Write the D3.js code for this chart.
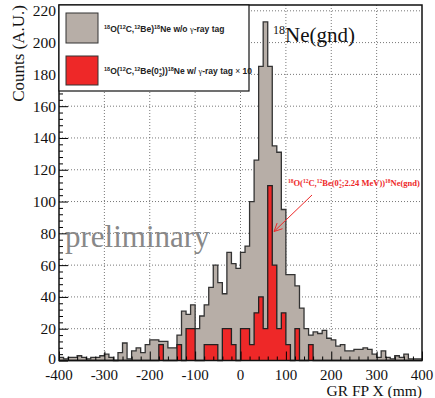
<!DOCTYPE html>
<html>
<head>
<meta charset="utf-8">
<script src="https://cdn.jsdelivr.net/npm/d3@7"></script>
<style>
  body { margin: 0; background: #fff; }
  svg { display: block; }
</style>
</head>
<body>
<svg id="chart" width="435" height="398"></svg>
<script>
// histogram bins: 10 mm wide, from -400 to 400
const binStart = -400;
const binWidth = 10;

// 18O(12C,12Be)18Ne w/o gamma-ray tag
const greyCounts = [
  2, 1, 2, 2, 3, 2, 1, 2, 2, 3,
  4, 2, 0, 5, 11, 1, 6, 8, 5, 10,
  13, 13, 12, 12, 8, 8, 16, 31, 29, 35,
  20, 28, 35, 46, 60, 49, 42, 68, 61, 58,
  68, 72, 100, 126, 185, 213, 185, 135, 131, 95,
  54, 54, 47, 33, 20, 16, 18, 17, 19, 14,
  13, 9, 10, 6, 6, 7, 7, 8, 7, 4,
  2, 6, 2, 1, 3, 2, 4, 1, 1, 1
];

// w/ gamma-ray tag, x 10
const redCounts = [
  0, 0, 0, 0, 0, 0, 0, 0, 0, 0,
  0, 0, 0, 0, 0, 0, 0, 0, 0, 0,
  0, 0, 10, 0, 0, 0, 10, 0, 20, 20,
  0, 0, 10, 10, 10, 0, 20, 20, 10, 0,
  20, 20, 10, 30, 40, 20, 110, 60, 20, 30,
  10, 0, 20, 0, 0, 10, 0, 0, 0, 0,
  0, 0, 0, 0, 0, 0, 0, 0, 0, 0,
  0, 0, 0, 0, 0, 0, 0, 0, 0, 0
];

const xTicks = [-400, -300, -200, -100, 0, 100, 200, 300, 400];
const yTicks = [0, 20, 40, 60, 80, 100, 120, 140, 160, 180, 200, 220];

const SERIF = '"Liberation Serif", "Times New Roman", serif';
const SANS = '"Liberation Sans", Arial, sans-serif';

const margin = { top: 5, right: 13, bottom: 37.5, left: 59 };
const width = 435 - margin.left - margin.right;
const height = 398 - margin.top - margin.bottom;

const svg = d3.select('#chart');
const g = svg.append('g').attr('transform', `translate(${margin.left},${margin.top})`);

const x = d3.scaleLinear().domain([-400, 400]).range([0, width]);
const y = d3.scaleLinear().domain([0, 213 * 1.05]).range([height, 0]);

// grid
g.append('g')
  .selectAll('line')
  .data(xTicks.slice(1, -1))
  .enter().append('line')
  .attr('x1', d => x(d)).attr('x2', d => x(d))
  .attr('y1', 0).attr('y2', height)
  .attr('stroke', '#555').attr('stroke-width', 0.8).attr('stroke-dasharray', '1,2');

g.append('g')
  .selectAll('line')
  .data(yTicks.slice(1))
  .enter().append('line')
  .attr('x1', 0).attr('x2', width)
  .attr('y1', d => y(d)).attr('y2', d => y(d))
  .attr('stroke', '#555').attr('stroke-width', 0.8).attr('stroke-dasharray', '1,2');

// step shapes
function toPoints(counts) {
  const pts = counts.map((c, i) => ({ e: binStart + i * binWidth, c: c }));
  pts.push({ e: binStart + counts.length * binWidth, c: counts[counts.length - 1] });
  return pts;
}

const area = d3.area()
  .curve(d3.curveStepAfter)
  .x(d => x(d.e))
  .y0(y(0))
  .y1(d => y(d.c));

const line = d3.line()
  .curve(d3.curveStepAfter)
  .x(d => x(d.e))
  .y(d => y(d.c));

const hist = g.append('g').attr('class', 'hist');

hist.append('path')
  .datum(toPoints(greyCounts))
  .attr('fill', '#b7aea7')
  .attr('d', area);
hist.append('path')
  .datum(toPoints(greyCounts))
  .attr('fill', 'none')
  .attr('stroke', '#333')
  .attr('stroke-width', 1.3)
  .attr('d', line);

hist.append('path')
  .datum(toPoints(redCounts))
  .attr('fill', '#ee2828')
  .attr('d', area);
hist.append('path')
  .datum(toPoints(redCounts))
  .attr('fill', 'none')
  .attr('stroke', '#222')
  .attr('stroke-width', 1.3)
  .attr('d', line);

// axes (ROOT style: ticks inside)
const yAxis = g.append('g')
  .call(d3.axisRight(y).tickValues(d3.range(0, 224, 4)).tickSize(4).tickFormat(''));
yAxis.selectAll('.tick line').filter(d => d % 20 === 0).attr('x2', 9);
yAxis.select('.domain').remove();

const xAxis = g.append('g')
  .attr('transform', `translate(0,${height})`)
  .call(d3.axisTop(x).tickValues(d3.range(-400, 401, 20)).tickSize(4).tickFormat(''));
xAxis.selectAll('.tick line').filter(d => d % 100 === 0).attr('y2', -9);
xAxis.select('.domain').remove();

// frame
g.append('rect')
  .attr('width', width).attr('height', height)
  .attr('fill', 'none').attr('stroke', '#111').attr('stroke-width', 1.5);

// tick labels
g.append('g').selectAll('text')
  .data(yTicks)
  .enter().append('text')
  .attr('font-family', SERIF).attr('font-size', 15.5).attr('fill', '#111')
  .attr('x', -3)
  .attr('y', d => y(d) + (d === 0 ? 3.5 : 5.5))
  .attr('text-anchor', 'end')
  .text(d => d);

g.append('g').selectAll('text')
  .data(xTicks)
  .enter().append('text')
  .attr('font-family', SERIF).attr('font-size', 15).attr('fill', '#111')
  .attr('x', d => x(d))
  .attr('y', height + 19)
  .attr('text-anchor', 'middle')
  .text(d => d);

// axis titles
svg.append('text')
  .attr('font-family', SERIF).attr('font-size', 17).attr('fill', '#111')
  .attr('transform', 'translate(24,5) rotate(-90)')
  .attr('text-anchor', 'end')
  .text('Counts (A.U.)');

svg.append('text')
  .attr('font-family', SERIF).attr('font-size', 15.5).attr('fill', '#111')
  .attr('x', margin.left + width)
  .attr('y', 395.5)
  .attr('text-anchor', 'end')
  .text('GR FP X (mm)');

// preliminary watermark
g.append('text')
  .attr('x', 6).attr('y', 242)
  .attr('font-family', SERIF).attr('font-size', 31)
  .attr('fill', '#888')
  .text('preliminary');

// 18Ne(gnd) label
const ne = g.append('text')
  .attr('x', 214).attr('y', 37)
  .attr('font-family', SERIF).attr('font-size', 21)
  .attr('fill', '#111');
ne.append('tspan').attr('dy', -8).attr('font-size', 12).text('18');
ne.append('tspan').attr('dy', 8).text('Ne(gnd)');

// red annotation + arrow
const ann = g.append('text')
  .attr('x', 229).attr('y', 181)
  .attr('font-family', SERIF).attr('font-size', 8.5)
  .attr('font-weight', 'bold')
  .attr('fill', '#ee2828');
ann.append('tspan').attr('dy', -3).attr('font-size', 5.5).text('18');
ann.append('tspan').attr('dy', 3).text('O(');
ann.append('tspan').attr('dy', -3).attr('font-size', 5.5).text('12');
ann.append('tspan').attr('dy', 3).text('C,');
ann.append('tspan').attr('dy', -3).attr('font-size', 5.5).text('12');
ann.append('tspan').attr('dy', 3).text('Be(0');
ann.append('tspan').attr('dy', -3).attr('font-size', 5.5).text('+');
ann.append('tspan').attr('dx', -3).attr('dy', 5).attr('font-size', 5.5).text('2');
ann.append('tspan').attr('dy', -2).text(';2.24 MeV))');
ann.append('tspan').attr('dy', -3).attr('font-size', 5.5).text('18');
ann.append('tspan').attr('dy', 3).text('Ne(gnd)');

const ax1 = 253, ay1 = 190, ax2 = 215, ay2 = 226.5;
g.append('line')
  .attr('x1', ax1).attr('y1', ay1).attr('x2', ax2).attr('y2', ay2)
  .attr('stroke', '#ee2828').attr('stroke-width', 1);
const ang = Math.atan2(ay2 - ay1, ax2 - ax1);
[-0.45, 0.45].forEach(da => {
  g.append('line')
    .attr('x1', ax2).attr('y1', ay2)
    .attr('x2', ax2 - 9 * Math.cos(ang + da)).attr('y2', ay2 - 9 * Math.sin(ang + da))
    .attr('stroke', '#ee2828').attr('stroke-width', 1);
});

// legend
const leg = svg.append('g').attr('transform', 'translate(59,5)');
leg.append('rect')
  .attr('width', 190).attr('height', 86)
  .attr('fill', '#fff').attr('stroke', '#111').attr('stroke-width', 1.2);
leg.append('rect')
  .attr('x', 7).attr('y', 8).attr('width', 32).attr('height', 30)
  .attr('fill', '#b7aea7').attr('stroke', '#333').attr('stroke-width', 1);
leg.append('rect')
  .attr('x', 7).attr('y', 51).attr('width', 32).attr('height', 29)
  .attr('fill', '#ee2828').attr('stroke', '#333').attr('stroke-width', 1);

function legText(yPos) {
  return leg.append('text')
    .attr('font-family', SANS).attr('font-size', 8.5).attr('font-weight', 'bold').attr('fill', '#222')
    .attr('x', 45).attr('y', yPos);
}

const t1 = legText(27);
t1.append('tspan').attr('dy', -3).attr('font-size', 5.5).text('18');
t1.append('tspan').attr('dy', 3).text('O(');
t1.append('tspan').attr('dy', -3).attr('font-size', 5.5).text('12');
t1.append('tspan').attr('dy', 3).text('C,');
t1.append('tspan').attr('dy', -3).attr('font-size', 5.5).text('12');
t1.append('tspan').attr('dy', 3).text('Be)');
t1.append('tspan').attr('dy', -3).attr('font-size', 5.5).text('18');
t1.append('tspan').attr('dy', 3).text('Ne w/o ');
t1.append('tspan').attr('font-weight', 'normal').attr('font-family', SERIF).text('γ');
t1.append('tspan').text('-ray tag');

const t2 = legText(69);
t2.append('tspan').attr('dy', -3).attr('font-size', 5.5).text('18');
t2.append('tspan').attr('dy', 3).text('O(');
t2.append('tspan').attr('dy', -3).attr('font-size', 5.5).text('12');
t2.append('tspan').attr('dy', 3).text('C,');
t2.append('tspan').attr('dy', -3).attr('font-size', 5.5).text('12');
t2.append('tspan').attr('dy', 3).text('Be(0');
t2.append('tspan').attr('dy', -3).attr('font-size', 5.5).text('+');
t2.append('tspan').attr('dx', -3).attr('dy', 6).attr('font-size', 5.5).text('2');
t2.append('tspan').attr('dy', -3).text('))');
t2.append('tspan').attr('dy', -3).attr('font-size', 5.5).text('18');
t2.append('tspan').attr('dy', 3).text('Ne w/ ');
t2.append('tspan').attr('font-weight', 'normal').attr('font-family', SERIF).text('γ');
t2.append('tspan').text('-ray tag ');
t2.append('tspan').attr('font-weight', 'normal').text('×');
t2.append('tspan').text(' 10');
</script>
</body>
</html>
